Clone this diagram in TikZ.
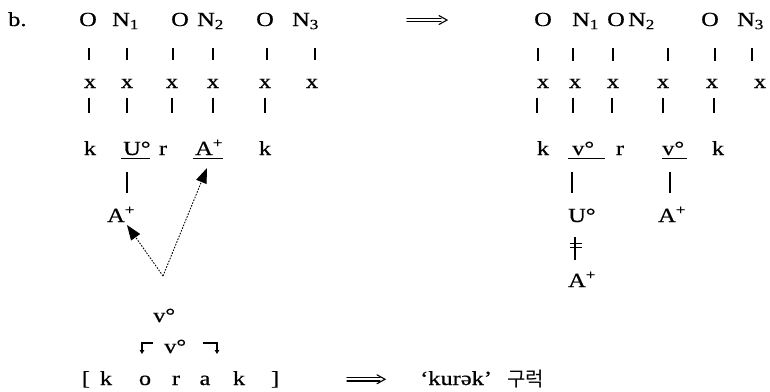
\documentclass[tikz,border=0pt]{standalone}
\usepackage{fontspec}
\setmainfont{Liberation Serif}[FakeStretch=1.22,FakeBold=0.6]
\newfontfamily\krfont{Noto Sans CJK KR}
\usetikzlibrary{arrows.meta}
\begin{document}
\begin{tikzpicture}[x=1pt,y=-1pt,
  every node/.style={font=\fontsize{20}{24}\selectfont, inner sep=0pt},
  lbl/.style={anchor=base},
  lblw/.style={anchor=base west},
  bar/.style={line width=1.1pt},
  uline/.style={line width=1pt},
  darr/.style={line width=0.9pt, dash pattern=on 1.6pt off 1.4pt, -{Triangle[length=15pt,width=11pt]}},
  carr/.style={line width=1.1pt, -{Triangle[length=4pt,width=4.5pt]}},
  impl/.style={line width=1.1pt, line cap=round, line join=miter}]
\useasboundingbox (0,0) rectangle (770,391);
% ---------- left chart ----------
\node[lblw] (b) at (8,26) {b.};
\node[lbl] (lo1) at (88,26) {O};
\node[lblw] (ln1) at (112,26) {N\textsubscript{1}};
\node[lbl] (lo2) at (180,26) {O};
\node[lblw] (ln2) at (197,26) {N\textsubscript{2}};
\node[lbl] (lo3) at (265,26) {O};
\node[lblw] (ln3) at (292,26) {N\textsubscript{3}};
\foreach \xx/\nm in {90/1,127/2,172/3,213/4,265/5,312/6}
  \node[lbl] (lx\nm) at (\xx,88) {x};
\foreach \xx in {89,127,173,213,267,315}
  \draw[bar] (\xx,48) -- (\xx,60);
\foreach \xx in {89,127,172,213,265}
  \draw[bar] (\xx,98) -- (\xx,113);
\node[lbl] (lk1) at (90,155) {k};
\node[lblw] (lu) at (123,155) {U°};
\node[lbl] (lr) at (163,155) {r};
\node[lblw] (la) at (195,155) {A\textsuperscript{+}};
\node[lbl] (lk2) at (265,155) {k};
\draw[uline] (121,158) -- (150,158);
\draw[uline] (193,158) -- (223,158);
\draw[bar] (127,172) -- (127,193);
\node[lblw] (la2) at (107,222) {A\textsuperscript{+}};
% dotted arrows
\coordinate (src) at (163,276);
\coordinate (t1) at (127,225);
\coordinate (t2) at (207,168);
\draw[darr] (src) -- (t1);
\draw[darr] (src) -- (t2);
% lower part
\node[lblw] (v1) at (153,322) {v°};
\node[lblw] (v2) at (164,353) {v°};
\draw[carr] (153,343) -- (142,343) -- (142,354);
\draw[carr] (203,343) -- (217,343) -- (217,354);
\node[lbl] (bl) at (86,385) {[};
\node[lbl] (bk1) at (106,385) {k};
\node[lbl] (bo) at (145,385) {o};
\node[lbl] (br) at (176,385) {r};
\node[lbl] (ba) at (205,385) {a};
\node[lbl] (bk2) at (239,385) {k};
\node[lbl] (brb) at (275,385) {]};
\draw[impl] (347,377.5) -- (380,377.5) (347,381) -- (380,381);
\draw[impl] (377,374.8) -- (385,379.25) -- (377,383.7);
\node[lblw] (gloss) at (420,385) {‘kurək’};
\node[lblw,font=\krfont\fontsize{20}{24}\selectfont] (kor) at (507,386) {구럭};
% ---------- top arrow ----------
\draw[impl] (407,18.3) -- (441,18.3) (407,21.8) -- (441,21.8);
\draw[impl] (439,15.6) -- (447,20.05) -- (439,24.5);
% ---------- right chart ----------
\node[lbl] (ro1) at (543,26) {O};
\node[lblw] (rn1) at (572,26) {N\textsubscript{1}};
\node[lbl] (ro2) at (616,26) {O};
\node[lblw] (rn2) at (628,26) {N\textsubscript{2}};
\node[lbl] (ro3) at (710,26) {O};
\node[lblw] (rn3) at (737,26) {N\textsubscript{3}};
\foreach \xx/\nm in {543/1,575/2,613/3,663/4,712/5,760/6}
  \node[lbl] (rx\nm) at (\xx,88) {x};
\foreach \xx in {538,573,613,668,715,752}
  \draw[bar] (\xx,48) -- (\xx,61);
\foreach \xx in {537,573,612,663,714}
  \draw[bar] (\xx,98) -- (\xx,113);
\node[lbl] (rk1) at (543,155) {k};
\node[lblw] (rv1) at (572,155) {v°};
\node[lbl] (rr) at (620,155) {r};
\node[lblw] (rv2) at (662,155) {v°};
\node[lbl] (rk2) at (718,155) {k};
\draw[uline] (568,158) -- (605,158);
\draw[uline] (662,158) -- (687,158);
\draw[bar] (572,172) -- (572,193);
\draw[bar] (670,172) -- (670,193);
\node[lblw] (ru) at (568,222) {U°};
\node[lblw] (ra) at (658,222) {A\textsuperscript{+}};
% not-linked symbol
\draw[bar] (575,237) -- (575,260);
\draw[line width=1pt] (569.5,243.3) -- (581.5,243.3);
\draw[line width=1pt] (569.5,247.5) -- (581.5,247.5);
\node[lblw] (ra2) at (568,287) {A\textsuperscript{+}};
\end{tikzpicture}
\end{document}
